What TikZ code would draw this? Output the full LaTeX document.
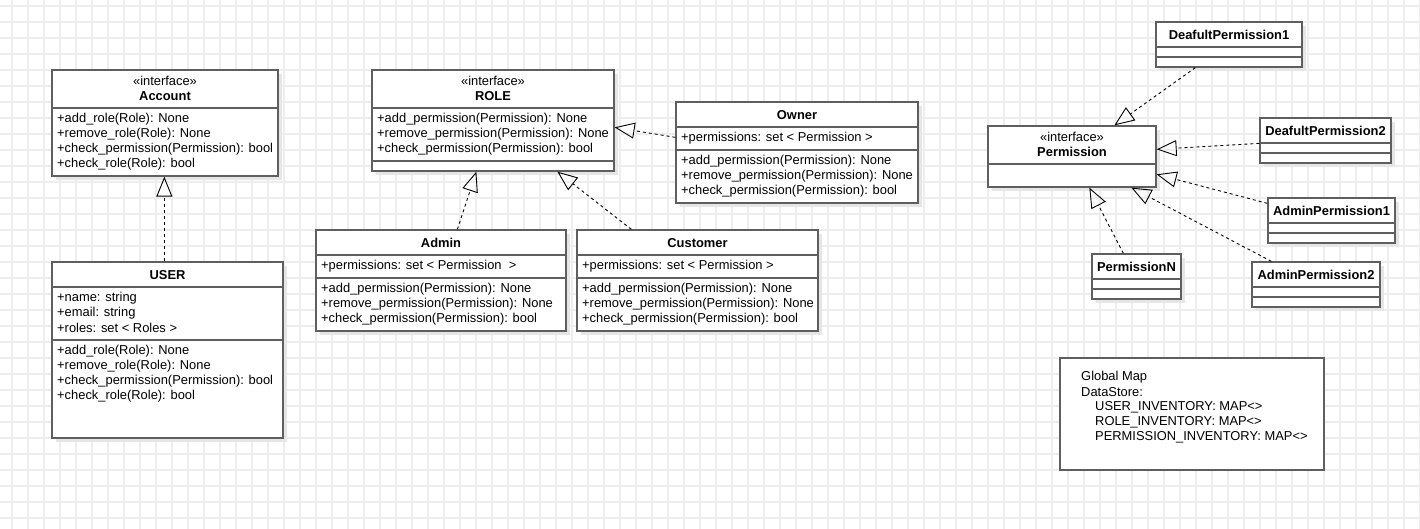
\documentclass[tikz,border=0pt]{standalone}
\usepackage{fontspec}
\setmainfont{Liberation Sans}
\usetikzlibrary{arrows.meta,calc}
\definecolor{gridc}{HTML}{EDEDED}
\definecolor{boxc}{HTML}{5F5F5F}
\definecolor{shadc}{HTML}{E6E6E6}
\begin{document}
\begin{tikzpicture}[x=1pt,y=-1pt,
  umlbox/.style={draw=boxc, line width=1.3pt, fill=white, rectangle, inner sep=0pt},
  divider/.style={draw=boxc, line width=1.3pt},
  mem/.style={anchor=west, inner sep=0pt, font=\fontsize{12.9}{15}\selectfont},
  ttl/.style={inner sep=0pt, font=\bfseries\fontsize{12.9}{15}\selectfont},
  stereo/.style={inner sep=0pt, font=\fontsize{12.9}{15}\selectfont},
  real/.style={draw=black, line width=0.9pt, dash pattern=on 3pt off 3pt,
    -{Triangle[open, length=20pt, width=16pt, line width=0.9pt]}}
]
\useasboundingbox (0,0) rectangle (1420,529);
\fill[white] (0,0) rectangle (1420,529);
% grid
\foreach \gx in {12,28,...,1420} \draw[gridc, line width=1.2pt] (\gx,0) -- (\gx,529);
\foreach \gy in {6,22,...,529} \draw[gridc, line width=1.2pt] (0,\gy) -- (1420,\gy);

% ---------- shadows ----------
\foreach \a/\b/\c/\d in {52/70/278/176, 52/262/283/438, 372/70/614/171, 676/102/918/203,
  316/230/566/331, 577/230/818/331, 988/126/1156/187, 1156/22/1302/67, 1260/118/1391/163,
  1268/198/1395/243, 1092/254/1181/299, 1252/262/1380/307}
  \fill[shadc] (\a+4,\b+4) rectangle (\c+4,\d+4);

% ---------- Account ----------
\node[umlbox, minimum width=226pt, minimum height=106pt] (account) at (165,123) {};
\node[stereo] (accst) at (165,81) {«interface»};
\node[ttl] (acct) at (165,96) {Account};
\draw[divider] (52,108) -- (278,108);
\node[mem] (acm1) at (57,119) {+add\_role(Role): None};
\node[mem] (acm2) at (57,134) {+remove\_role(Role): None};
\node[mem] (acm3) at (57,149) {+check\_permission(Permission): bool};
\node[mem] (acm4) at (57,164) {+check\_role(Role): bool};

% ---------- USER ----------
\node[umlbox, minimum width=231pt, minimum height=176pt] (user) at (167.5,350) {};
\node[ttl] (usert) at (167.5,275) {USER};
\draw[divider] (52,287) -- (283,287);
\node[mem] (usa1) at (57,298) {+name: string};
\node[mem] (usa2) at (57,313) {+email: string};
\node[mem] (usa3) at (57,328) {+roles: set < Roles >};
\draw[divider] (52,340) -- (283,340);
\node[mem] (usm1) at (57,351) {+add\_role(Role): None};
\node[mem] (usm2) at (57,366) {+remove\_role(Role): None};
\node[mem] (usm3) at (57,381) {+check\_permission(Permission): bool};
\node[mem] (usm4) at (57,396) {+check\_role(Role): bool};

% ---------- ROLE ----------
\node[umlbox, minimum width=242pt, minimum height=101pt] (role) at (493,120.5) {};
\node[stereo] (rolest) at (493,81) {«interface»};
\node[ttl] (rolet) at (493,96) {ROLE};
\draw[divider] (372,108) -- (614,108);
\node[mem] (rom1) at (377,119) {+add\_permission(Permission): None};
\node[mem] (rom2) at (377,134) {+remove\_permission(Permission): None};
\node[mem] (rom3) at (377,149) {+check\_permission(Permission): bool};
\draw[divider] (372,161) -- (614,161);

% ---------- Owner ----------
\node[umlbox, minimum width=242pt, minimum height=101pt] (owner) at (797,152.5) {};
\node[ttl] (ownert) at (797,115) {Owner};
\draw[divider] (676,127) -- (918,127);
\node[mem] (owa1) at (681,138) {+permissions: set < Permission >};
\draw[divider] (676,150) -- (918,150);
\node[mem] (owm1) at (681,161) {+add\_permission(Permission): None};
\node[mem] (owm2) at (681,176) {+remove\_permission(Permission): None};
\node[mem] (owm3) at (681,191) {+check\_permission(Permission): bool};

% ---------- Admin ----------
\node[umlbox, minimum width=250pt, minimum height=101pt] (admin) at (441,280.5) {};
\node[ttl] (admint) at (441,243) {Admin};
\draw[divider] (316,255) -- (566,255);
\node[mem] (ada1) at (321,266) {+permissions: set < Permission~ >};
\draw[divider] (316,278) -- (566,278);
\node[mem] (adm1) at (321,289) {+add\_permission(Permission): None};
\node[mem] (adm2) at (321,304) {+remove\_permission(Permission): None};
\node[mem] (adm3) at (321,319) {+check\_permission(Permission): bool};

% ---------- Customer ----------
\node[umlbox, minimum width=241pt, minimum height=101pt] (customer) at (697.5,280.5) {};
\node[ttl] (custt) at (697.5,243) {Customer};
\draw[divider] (577,255) -- (818,255);
\node[mem] (cua1) at (582,266) {+permissions: set < Permission >};
\draw[divider] (577,278) -- (818,278);
\node[mem] (cum1) at (582,289) {+add\_permission(Permission): None};
\node[mem] (cum2) at (582,304) {+remove\_permission(Permission): None};
\node[mem] (cum3) at (582,319) {+check\_permission(Permission): bool};

% ---------- Permission ----------
\node[umlbox, minimum width=168pt, minimum height=61pt] (perm) at (1072,156.5) {};
\node[stereo] (permst) at (1072,137) {«interface»};
\node[ttl] (permt) at (1072,152) {Permission};
\draw[divider] (988,164) -- (1156,164);

% ---------- DeafultPermission1 ----------
\node[umlbox, minimum width=146pt, minimum height=45pt] (dp1) at (1229,44.5) {};
\node[ttl] (dp1t) at (1229,35) {DeafultPermission1};
\draw[divider] (1156,47) -- (1303,47);
\draw[divider] (1156,57) -- (1303,57);

% ---------- DeafultPermission2 ----------
\node[umlbox, minimum width=131pt, minimum height=45pt] (dp2) at (1325.5,140.5) {};
\node[ttl] (dp2t) at (1325.5,131) {DeafultPermission2};
\draw[divider] (1260,143) -- (1392,143);
\draw[divider] (1260,153) -- (1392,153);

% ---------- AdminPermission1 ----------
\node[umlbox, minimum width=127pt, minimum height=45pt] (ap1) at (1331.5,220.5) {};
\node[ttl] (ap1t) at (1331.5,211) {AdminPermission1};
\draw[divider] (1268,223) -- (1395,223);
\draw[divider] (1268,233) -- (1395,233);

% ---------- PermissionN ----------
\node[umlbox, minimum width=89pt, minimum height=45pt] (pn) at (1136.5,276.5) {};
\node[ttl] (pnt) at (1136.5,267) {PermissionN};
\draw[divider] (1092,279) -- (1182,279);
\draw[divider] (1092,289) -- (1182,289);

% ---------- AdminPermission2 ----------
\node[umlbox, minimum width=128pt, minimum height=45pt] (ap2) at (1316,284.5) {};
\node[ttl] (ap2t) at (1316,275) {AdminPermission2};
\draw[divider] (1252,287) -- (1381,287);
\draw[divider] (1252,297) -- (1381,297);

% ---------- Global Map ----------
\node[umlbox, minimum width=264pt, minimum height=112pt] (gmap) at (1192,414) {};
\node[mem] (gm1) at (1081,377) {Global Map};
\node[mem] (gm2) at (1081,392) {DataStore:};
\node[mem] (gm3) at (1095,407) {USER\_INVENTORY: MAP<>};
\node[mem] (gm4) at (1095,422) {ROLE\_INVENTORY: MAP<>};
\node[mem] (gm5) at (1095,437) {PERMISSION\_INVENTORY: MAP<>};

% ---------- realizations ----------
\draw[real] ($(user.north west)+(113,0)$) -- ($(account.south west)+(113,0)$);
\draw[real] ($(admin.north west)+(142,0)$) -- ($(role.south west)+(105,0)$);
\draw[real] ($(customer.north west)+(55,0)$) -- ($(role.south west)+(186,0)$);
\draw[real] ($(owner.north west)+(0,36)$) -- ($(role.north east)+(0,58)$);
\draw[real] ($(dp1.south west)+(40,0)$) -- ($(perm.north west)+(127,0)$);
\draw[real] ($(dp2.north west)+(0,26)$) -- ($(perm.north east)+(0,24)$);
\draw[real] ($(ap1.north west)+(0,6)$) -- ($(perm.north east)+(0,49)$);
\draw[real] ($(ap2.north west)+(20,0)$) -- ($(perm.south west)+(144,0)$);
\draw[real] ($(pn.north west)+(32,0)$) -- ($(perm.south west)+(102,0)$);
\end{tikzpicture}
\end{document}
